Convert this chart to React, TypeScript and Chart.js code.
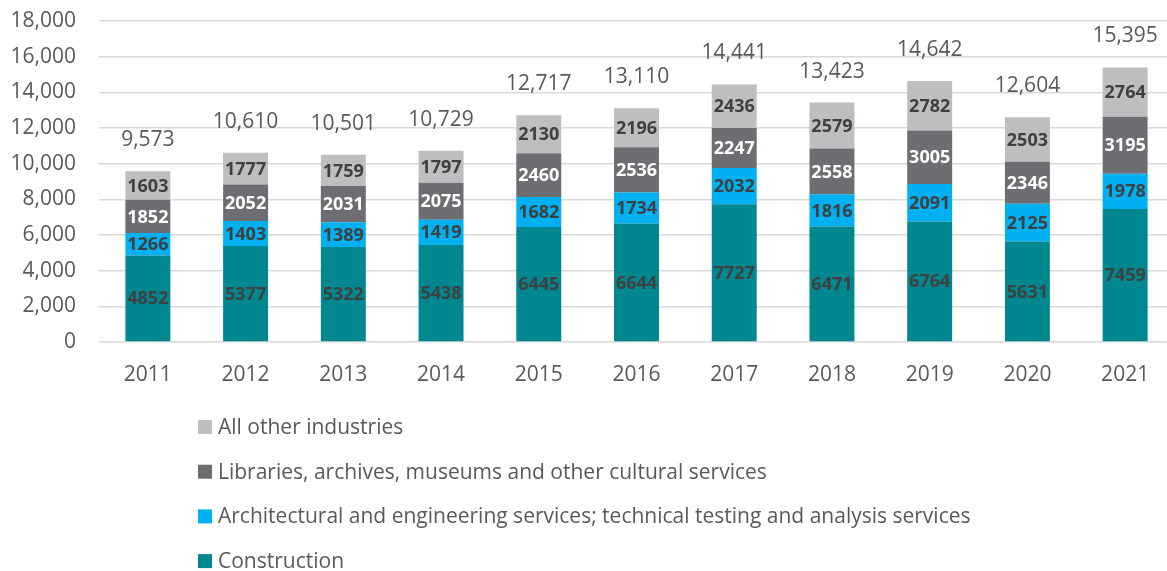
import React, { useEffect, useRef } from "react";
import { Chart, registerables } from "chart.js";

Chart.register(...registerables);

const years = ["2011", "2012", "2013", "2014", "2015", "2016", "2017", "2018", "2019", "2020", "2021"];
const construction = [4852, 5377, 5322, 5438, 6445, 6644, 7727, 6471, 6764, 5631, 7459];
const architectural = [1266, 1403, 1389, 1419, 1682, 1734, 2032, 1816, 2091, 2125, 1978];
const libraries = [1852, 2052, 2031, 2075, 2460, 2536, 2247, 2558, 3005, 2346, 3195];
const otherIndustries = [1603, 1777, 1759, 1797, 2130, 2196, 2436, 2579, 2782, 2503, 2764];
const totals = [9573, 10610, 10501, 10729, 12717, 13110, 14441, 13423, 14642, 12604, 15395];

const seriesNames = [
  "Construction",
  "Architectural and engineering services; technical testing and analysis services",
  "Libraries, archives, museums and other cultural services",
  "All other industries",
];
const seriesColors = ["#00878F", "#00B0F0", "#6D6E71", "#BDBEC0"];
const labelColors = ["#404040", "#404040", "#FFFFFF", "#404040"];

const FONT = "'Open Sans', sans-serif";
const TEXT = "#595959";

const segmentLabels = {
  id: "segmentLabels",
  afterDatasetsDraw(chart: any) {
    const ctx = chart.ctx;
    ctx.save();
    ctx.font = `bold 18px ${FONT}`;
    ctx.textAlign = "center";
    ctx.textBaseline = "middle";
    chart.data.datasets.forEach((ds: any, di: number) => {
      const meta = chart.getDatasetMeta(di);
      ctx.fillStyle = labelColors[di];
      meta.data.forEach((el: any, i: number) => {
        const mid = (el.y + el.base) / 2;
        ctx.fillText(String(ds.data[i]), el.x, mid + 1);
      });
    });
    const topMeta = chart.getDatasetMeta(chart.data.datasets.length - 1);
    ctx.font = `21px ${FONT}`;
    ctx.fillStyle = TEXT;
    topMeta.data.forEach((el: any, i: number) => {
      ctx.fillText(totals[i].toLocaleString("en-US"), el.x, el.y - 31);
    });
    ctx.restore();
  },
};

const verticalLegend = {
  id: "verticalLegend",
  afterDraw(chart: any) {
    const ctx = chart.ctx;
    ctx.save();
    ctx.font = `21px ${FONT}`;
    ctx.textBaseline = "middle";
    ctx.textAlign = "left";
    const n = chart.data.datasets.length;
    const startY = chart.chartArea.bottom + 85;
    for (let k = 0; k < n; k++) {
      const di = n - 1 - k;
      const ds = chart.data.datasets[di];
      const cy = startY + k * 44.7;
      ctx.fillStyle = ds.backgroundColor;
      ctx.fillRect(198, cy - 7, 14, 14);
      ctx.fillStyle = TEXT;
      ctx.fillText(ds.label, 218, cy + 1);
    }
    ctx.restore();
  },
};

export default function App() {
  const ref = useRef<HTMLCanvasElement | null>(null);
  useEffect(() => {
    if (!ref.current) return;
    const dataSets = [construction, architectural, libraries, otherIndustries];
    const chart = new Chart(ref.current, {
      type: "bar",
      data: {
        labels: years,
        datasets: dataSets.map((d, i) => ({
          label: seriesNames[i],
          data: d,
          backgroundColor: seriesColors[i],
          borderWidth: 0,
          categoryPercentage: 1,
          barPercentage: 0.46,
        })),
      },
      options: {
        responsive: false,
        animation: false,
        layout: { padding: { left: 10, top: 21, right: 0, bottom: 179 } },
        plugins: {
          legend: { display: false },
          tooltip: { enabled: false },
        },
        scales: {
          x: {
            stacked: true,
            grid: { display: false, drawTicks: false },
            border: { display: false },
            ticks: { color: TEXT, font: { family: FONT, size: 21 }, padding: 20 },
            afterFit: (axis: any) => {
              axis.height = 50;
            },
          },
          y: {
            stacked: true,
            min: 0,
            max: 18000,
            ticks: {
              stepSize: 2000,
              color: TEXT,
              font: { family: FONT, size: 21 },
              padding: 23,
              callback: (v: any) => Number(v).toLocaleString("en-US"),
            },
            grid: { color: "#D9D9D9", lineWidth: 1.5, drawTicks: false },
            border: { display: false },
            afterFit: (axis: any) => {
              axis.width = 89;
              axis.paddingTop = 0;
              axis.paddingBottom = 0;
            },
          },
        },
      },
      plugins: [segmentLabels, verticalLegend],
    });
    return () => chart.destroy();
  }, []);
  return (
    <div style={{ position: "fixed", left: 0, top: 0, width: 1167, height: 571, overflow: "hidden", background: "#fff" }}>
      <canvas ref={ref} width={1174} height={571} style={{ display: "block" }} />
    </div>
  );
}
